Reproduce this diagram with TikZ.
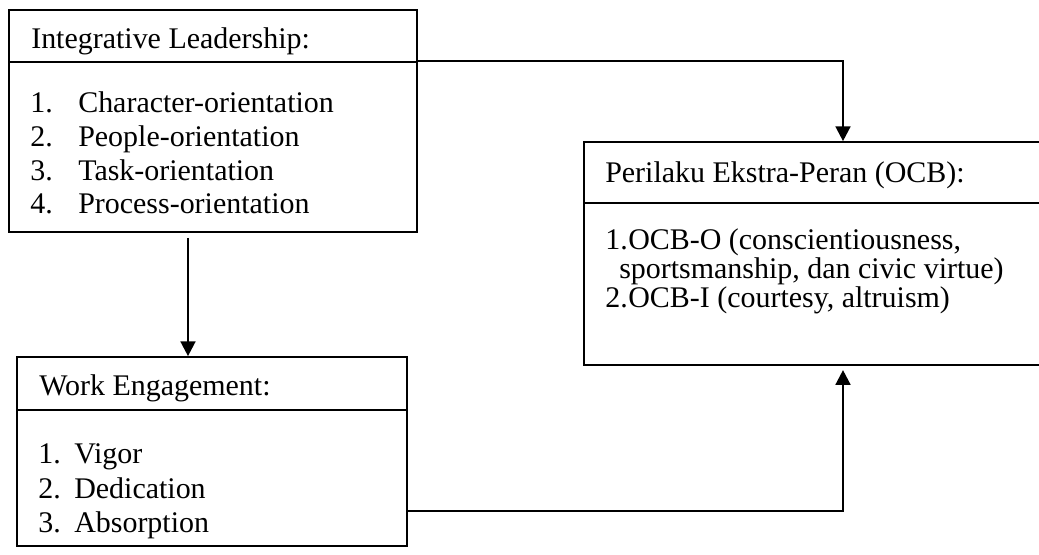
\documentclass[tikz,border=0pt]{standalone}
\usepackage{fontspec}
\setmainfont{Liberation Serif}
\usetikzlibrary{arrows.meta,fit}

\begin{document}
\begin{tikzpicture}[x=0.025cm,y=-0.025cm,
	box/.style={draw,line width=1.2pt,inner sep=0pt},
	txt/.style={anchor=base west,inner sep=0pt,font=\fontsize{21.3}{24}\selectfont},
	link/.style={line width=1.7pt},
	arr/.style={link,-{Triangle[width=10.5pt,length=10.5pt]}}]
\useasboundingbox (0,0) rectangle (1039,554);
% boxes
\coordinate (A1) at (9,10);
\coordinate (A2) at (417,232);
\coordinate (B1) at (584,142);
\coordinate (B2) at (1045,365);
\coordinate (C1) at (17,357);
\coordinate (C2) at (407,546);
\node[box,fit=(A1)(A2)] (lead) {};
\node[box,fit=(B1)(B2)] (ocb) {};
\node[box,fit=(C1)(C2)] (work) {};
\draw[line width=1.2pt] (lead.west |- 0,62) -- (lead.east |- 0,62);
\draw[line width=1.2pt] (ocb.west |- 0,203) -- (ocb.east |- 0,203);
\draw[line width=1.2pt] (work.west |- 0,410) -- (work.east |- 0,410);
% Integrative Leadership
\node[txt] (leadh) at (31,48) {Integrative Leadership:};
\node[txt] (leadn1) at (30,112) {1.};
\node[txt] (leadi1) at (78,112) {Character-orientation};
\node[txt] (leadn2) at (30,146) {2.};
\node[txt] (leadi2) at (78,146) {People-orientation};
\node[txt] (leadn3) at (30,180) {3.};
\node[txt] (leadi3) at (78,180) {Task-orientation};
\node[txt] (leadn4) at (30,213) {4.};
\node[txt] (leadi4) at (78,213) {Process-orientation};
% Perilaku Ekstra-Peran
\node[txt] (ocbh) at (605,182) {Perilaku Ekstra-Peran (OCB):};
\node[txt] (ocbn1) at (605,249) {1.};
\node[txt] (ocbi1) at (628,249) {OCB-O (conscientiousness,};
\node[txt] (ocbi1b) at (619,278) {sportsmanship, dan civic virtue)};
\node[txt] (ocbn2) at (605,307) {2.};
\node[txt] (ocbi2) at (628,307) {OCB-I (courtesy, altruism)};
% Work Engagement
\node[txt] (workh) at (39,395) {Work Engagement:};
\node[txt] (workn1) at (38,463) {1.};
\node[txt] (worki1) at (74,463) {Vigor};
\node[txt] (workn2) at (38,498) {2.};
\node[txt] (worki2) at (74,498) {Dedication};
\node[txt] (workn3) at (38,532) {3.};
\node[txt] (worki3) at (74,532) {Absorption};
% links
\coordinate (T) at (843,61);
\coordinate (M) at (188,237);
\coordinate (U) at (843,511);
\draw[arr] (lead.east |- T) -- (T) -- (ocb.north -| T);
\draw[arr,shorten <=3.5pt] (lead.south -| M) -- (work.north -| M);
\draw[arr,shorten >=3pt] (work.east |- U) -- (U) -- (ocb.south -| U);
\end{tikzpicture}
\end{document}
